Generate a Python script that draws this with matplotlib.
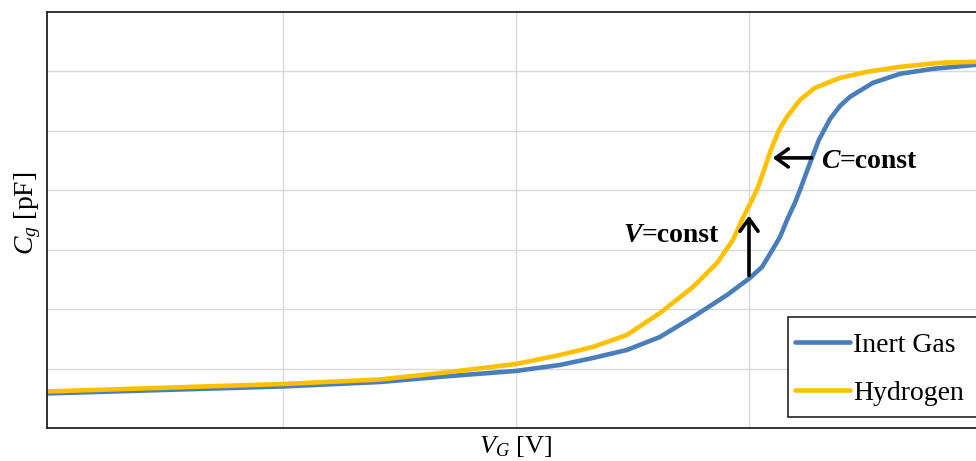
import matplotlib
matplotlib.use("Agg")
from matplotlib import pyplot as plt
from matplotlib.patches import Rectangle

# Data (arbitrary units: VG 0..4, Cg 0..7)
inert_x = [-0.02, 1.0, 1.416, 1.717, 2.0, 2.189, 2.33, 2.476, 2.618, 2.76, 2.906, 3.004,
           3.056, 3.103, 3.133, 3.167, 3.197, 3.219, 3.262, 3.3, 3.348, 3.391, 3.433,
           3.532, 3.648, 3.79, 3.974, 4.0]
inert_y = [0.581, 0.699, 0.774, 0.875, 0.96, 1.061, 1.178, 1.313, 1.532, 1.869, 2.239, 2.525,
           2.71, 3.013, 3.215, 3.535, 3.788, 4.007, 4.461, 4.848, 5.202, 5.421, 5.572,
           5.808, 5.96, 6.044, 6.111, 6.115]

hyd_x = [-0.02, 1.0, 1.416, 1.717, 2.0, 2.189, 2.33, 2.476, 2.618, 2.76, 2.863, 2.931,
         2.974, 3.013, 3.039, 3.069, 3.094, 3.129, 3.163, 3.219, 3.283, 3.391, 3.506,
         3.648, 3.82, 3.974, 4.0]
hyd_y = [0.614, 0.741, 0.816, 0.943, 1.077, 1.229, 1.364, 1.566, 1.936, 2.374, 2.778, 3.165,
         3.535, 3.838, 4.057, 4.394, 4.68, 5.017, 5.236, 5.522, 5.724, 5.892, 5.993,
         6.077, 6.145, 6.162, 6.165]

plt.rcParams["font.family"] = ["Liberation Serif", "DejaVu Serif"]
plt.rcParams["mathtext.fontset"] = "custom"
plt.rcParams["mathtext.rm"] = "Liberation Serif"
plt.rcParams["mathtext.it"] = "Liberation Serif:italic"

fig = plt.figure(figsize=(9.76, 4.61), dpi=100)
ax = fig.add_axes([47 / 976, 33 / 461, 935 / 976, 416 / 461])

ax.plot(inert_x, inert_y, color="#4a7ebb", linewidth=3.3, label="Inert Gas",
        solid_capstyle="round", solid_joinstyle="round")
ax.plot(hyd_x, hyd_y, color="#ffc000", linewidth=3.3, label="Hydrogen",
        solid_capstyle="round", solid_joinstyle="round")

ax.set_xlim(-0.0129, 4)
ax.set_ylim(0, 7)
ax.set_xticks([1, 2, 3])
ax.set_yticks([1, 2, 3, 4, 5, 6])
ax.tick_params(length=0, labelbottom=False, labelleft=False)
ax.grid(True, color="#d9d9d9", linewidth=1)
ax.set_axisbelow(True)
for s in ax.spines.values():
    s.set_color("#222222")
    s.set_linewidth(1.3)

# Arrows
arrow_style = dict(arrowstyle="->,head_width=0.65,head_length=0.9", color="black", lw=2.6)
ax.annotate("", xy=(3.0, 3.62), xytext=(3.0, 2.52), arrowprops=arrow_style)
ax.annotate("", xy=(3.09, 4.545), xytext=(3.28, 4.545), arrowprops=arrow_style)

# Labels for the arrows
ax.text(2.541, 3.13, "V", fontsize=20, fontweight="bold", fontstyle="italic", ha="right", va="baseline")
ax.text(2.541, 3.13, "=const", fontsize=20, fontweight="bold", ha="left", va="baseline")
ax.text(3.39, 4.377, "C", fontsize=20, fontweight="bold", fontstyle="italic", ha="right", va="baseline")
ax.text(3.39, 4.377, "=const", fontsize=20, fontweight="bold", ha="left", va="baseline")

# Legend (box runs past the right edge like the original)
leg = ax.legend(loc="lower left", bbox_to_anchor=(0.791, 0.034), borderaxespad=0,
                fontsize=20, frameon=False,
                handlelength=2.0, handletextpad=0.1, labelspacing=0.8, borderpad=0.3)
box = Rectangle((0.7925, 0.0264), 0.2214, 0.2404, transform=ax.transAxes,
                facecolor="white", edgecolor="#222222", linewidth=1.2, zorder=4,
                clip_on=False)
ax.add_patch(box)
leg.set_zorder(5)

fig.text(28 / 976, 1 - 213 / 461, r"$C_g$ [pF]", rotation=90, fontsize=20, ha="center", va="center")
fig.text(516 / 976, 2 / 461, r"$V_G$ [V]", fontsize=19, ha="center", va="bottom")

fig.savefig("out.png", dpi=100)
